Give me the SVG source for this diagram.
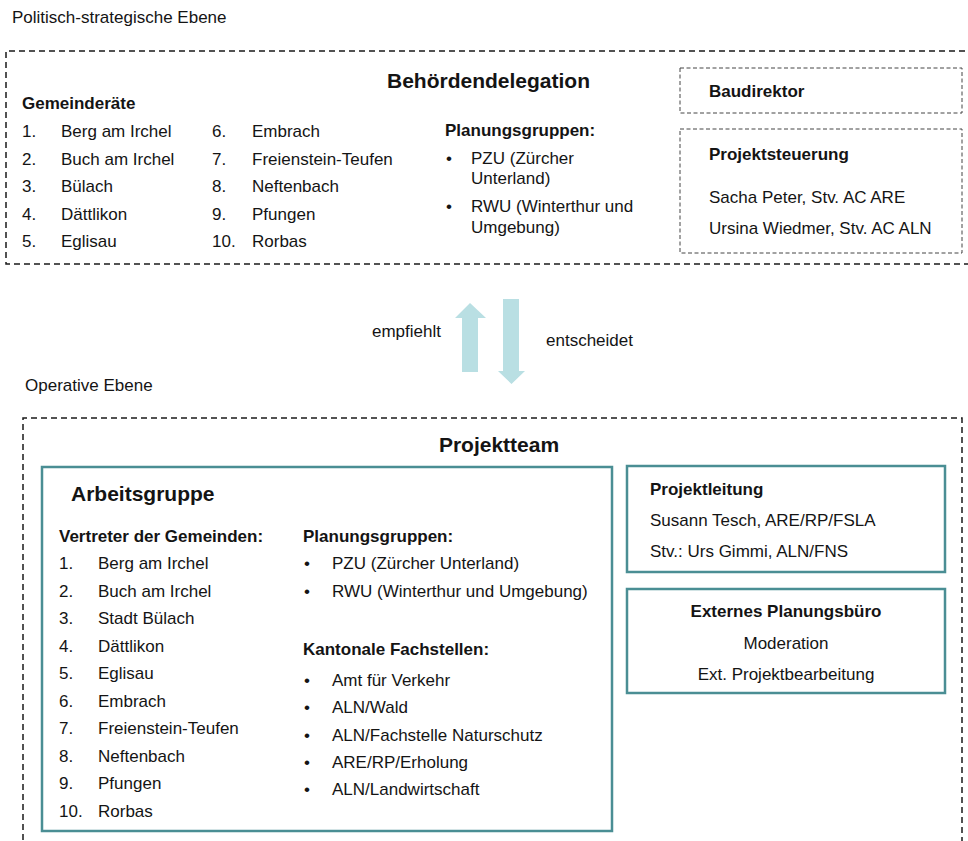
<svg xmlns="http://www.w3.org/2000/svg" width="968" height="841" viewBox="0 0 968 841">
<style>
text{font-family:"Liberation Sans",Arial,sans-serif;fill:#141414;font-size:17px}
.b{font-weight:bold}
.t{font-weight:bold;font-size:21px}
.c{text-anchor:middle}
.outer{fill:none;stroke:#1a1a1a;stroke-width:1.5;stroke-dasharray:6 4}
.inner{fill:none;stroke:#444;stroke-width:1;stroke-dasharray:4 2.5}
.teal{fill:#fff;stroke:#4a8e94;stroke-width:2.5}
.arrow{fill:#b9dfe3}
</style>
<rect width="968" height="841" fill="#fff"/>
<text x="12" y="23">Politisch-strategische Ebene</text>
<text x="25" y="391">Operative Ebene</text>

<g id="behoerdendelegation">
<path class="outer" d="M975 51 H6 V264 H975"/>
<text class="t" x="387" y="88">Behördendelegation</text>
<text class="b" x="22" y="109">Gemeinderäte</text>
<text x="22" y="137">1.</text><text x="61" y="137">Berg am Irchel</text>
<text x="22" y="164.5">2.</text><text x="61" y="164.5">Buch am Irchel</text>
<text x="22" y="192">3.</text><text x="61" y="192">Bülach</text>
<text x="22" y="219.5">4.</text><text x="61" y="219.5">Dättlikon</text>
<text x="22" y="247">5.</text><text x="61" y="247">Eglisau</text>
<text x="212" y="137">6.</text><text x="252" y="137">Embrach</text>
<text x="212" y="164.5">7.</text><text x="252" y="164.5">Freienstein-Teufen</text>
<text x="212" y="192">8.</text><text x="252" y="192">Neftenbach</text>
<text x="212" y="219.5">9.</text><text x="252" y="219.5">Pfungen</text>
<text x="212" y="247">10.</text><text x="252" y="247">Rorbas</text>
<text class="b" x="445" y="136">Planungsgruppen:</text>
<text x="446" y="164">•</text><text x="471" y="164">PZU (Zürcher</text>
<text x="471" y="184">Unterland)</text>
<text x="446" y="212">•</text><text x="471" y="212">RWU (Winterthur und</text>
<text x="471" y="233">Umgebung)</text>
</g>

<g id="baudirektor">
<rect class="inner" x="680" y="68" width="282" height="45"/>
<text class="b" x="709" y="97">Baudirektor</text>
</g>

<g id="projektsteuerung">
<rect class="inner" x="680" y="129" width="282" height="124"/>
<text class="b" x="709" y="160">Projektsteuerung</text>
<text x="709" y="203">Sacha Peter, Stv. AC ARE</text>
<text x="709" y="234">Ursina Wiedmer, Stv. AC ALN</text>
</g>

<g id="connectors">
<polygon class="arrow" points="470,303 486,318 478,318 478,372 462,372 462,318 455,318"/>
<polygon class="arrow" points="503,299 519,299 519,371 525,371 511.5,384 498,371 503,371"/>
<text x="372" y="337">empfiehlt</text>
<text x="546" y="346">entscheidet</text>
</g>

<g id="projektteam">
<path class="outer" d="M23 850 V418 H962 V850"/>
<text class="t c" x="499" y="452">Projektteam</text>
</g>

<g id="arbeitsgruppe">
<rect class="teal" x="42" y="467" width="570" height="364"/>
<text class="t" x="71" y="501">Arbeitsgruppe</text>
<text class="b" x="59" y="542">Vertreter der Gemeinden:</text>
<text x="59" y="569">1.</text><text x="98" y="569">Berg am Irchel</text>
<text x="59" y="596.5">2.</text><text x="98" y="596.5">Buch am Irchel</text>
<text x="59" y="624">3.</text><text x="98" y="624">Stadt Bülach</text>
<text x="59" y="651.5">4.</text><text x="98" y="651.5">Dättlikon</text>
<text x="59" y="679">5.</text><text x="98" y="679">Eglisau</text>
<text x="59" y="706.5">6.</text><text x="98" y="706.5">Embrach</text>
<text x="59" y="734">7.</text><text x="98" y="734">Freienstein-Teufen</text>
<text x="59" y="761.5">8.</text><text x="98" y="761.5">Neftenbach</text>
<text x="59" y="789">9.</text><text x="98" y="789">Pfungen</text>
<text x="59" y="816.5">10.</text><text x="98" y="816.5">Rorbas</text>
<text class="b" x="303" y="542">Planungsgruppen:</text>
<text x="304" y="569">•</text><text x="332" y="569">PZU (Zürcher Unterland)</text>
<text x="304" y="596.5">•</text><text x="332" y="596.5">RWU (Winterthur und Umgebung)</text>
<text class="b" x="303" y="655">Kantonale Fachstellen:</text>
<text x="304" y="686">•</text><text x="332" y="686">Amt für Verkehr</text>
<text x="304" y="713">•</text><text x="332" y="713">ALN/Wald</text>
<text x="304" y="740.5">•</text><text x="332" y="740.5">ALN/Fachstelle Naturschutz</text>
<text x="304" y="767.5">•</text><text x="332" y="767.5">ARE/RP/Erholung</text>
<text x="304" y="795">•</text><text x="332" y="795">ALN/Landwirtschaft</text>
</g>

<g id="projektleitung">
<rect class="teal" x="627" y="466" width="318" height="106"/>
<text class="b" x="650" y="495">Projektleitung</text>
<text x="650" y="526">Susann Tesch, ARE/RP/FSLA</text>
<text x="650" y="557">Stv.: Urs Gimmi, ALN/FNS</text>
</g>

<g id="planungsbuero">
<rect class="teal" x="627" y="589" width="318" height="104"/>
<text class="b c" x="786" y="617">Externes Planungsbüro</text>
<text class="c" x="786" y="649">Moderation</text>
<text class="c" x="786" y="680">Ext. Projektbearbeitung</text>
</g>
</svg>
